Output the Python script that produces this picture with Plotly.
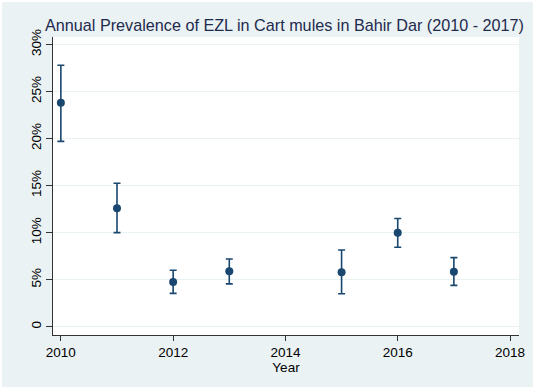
import plotly.graph_objects as go

years = [2010, 2011, 2012, 2013, 2015, 2016, 2017]
prevalence = [23.8, 12.6, 4.75, 5.9, 5.8, 10.0, 5.85]
ci_upper = [27.8, 15.25, 6.0, 7.2, 8.15, 11.5, 7.35]
ci_lower = [19.7, 10.0, 3.55, 4.55, 3.5, 8.45, 4.4]

y_tickvals = [0, 5, 10, 15, 20, 25, 30]
y_ticktext = ["0", "5%", "10%", "15%", "20%", "25%", "30%"]
x_tickvals = [2010, 2012, 2014, 2016, 2018]

W, H = 536, 391
L, R, T, B = 53, 17, 37, 56
pw, ph = W - L - R, H - T - B

navy = "#1A476F"
bg = "#EAF2F3"
font = "Liberation Sans, Arial, sans-serif"

fig = go.Figure()
fig.add_trace(go.Scatter(
    x=years, y=prevalence, mode="markers",
    marker=dict(color=navy, size=8),
    error_y=dict(
        type="data", symmetric=False,
        array=[u - v for u, v in zip(ci_upper, prevalence)],
        arrayminus=[v - l for v, l in zip(prevalence, ci_lower)],
        color=navy, thickness=1.6, width=3.5,
    ),
    showlegend=False,
))

def px2paper_x(px):
    return (px - L) / pw

def px2paper_y(py):
    return (H - B - py) / ph

# thin white frame around the figure
shapes = []
for (x0, y0, x1, y1) in [(0, 0, W, 2), (0, 387, W, H), (0, 0, 2, H), (533, 0, W, H)]:
    shapes.append(dict(
        type="rect", xref="paper", yref="paper",
        x0=px2paper_x(x0), x1=px2paper_x(x1),
        y0=px2paper_y(y1), y1=px2paper_y(y0),
        fillcolor="white", line=dict(width=0), layer="above",
    ))

fig.update_layout(
    width=W, height=H,
    margin=dict(l=L, r=R, t=T, b=B),
    paper_bgcolor=bg, plot_bgcolor="white",
    font=dict(family=font, size=13.5, color="#000000"),
    title=dict(
        text="Annual Prevalence of EZL in Cart mules in Bahir Dar (2010 - 2017)",
        font=dict(family=font, size=16.2, color="#1E2A4E"),
        xref="container", yref="container",
        x=45 / W, xanchor="left", y=(H - 25) / H, yanchor="middle",
    ),
    xaxis=dict(
        range=[2009.86, 2018.16],
        tickvals=x_tickvals, ticktext=[str(v) for v in x_tickvals],
        ticks="outside", ticklen=5, tickcolor="#333333", tickwidth=1,
        showline=True, linecolor="#333333", linewidth=1,
        showgrid=False, zeroline=False,
        title=dict(text="Year", font=dict(size=13.5), standoff=0),
        tickfont=dict(size=13.5, color="#000000"),
    ),
    yaxis=dict(
        range=[-0.88, 30.8],
        tickvals=y_tickvals, ticktext=y_ticktext,
        tickangle=-90,
        ticks="outside", ticklen=6, tickcolor="#333333", tickwidth=1,
        showline=True, linecolor="#333333", linewidth=1,
        showgrid=True, gridcolor=bg, gridwidth=1,
        zeroline=False,
        tickfont=dict(size=13.5, color="#000000"),
    ),
    shapes=shapes,
)

fig.write_html(
    "out.html",
    config={"displayModeBar": False},
    post_script="document.body.style.margin='0';document.body.style.overflow='hidden';",
)
